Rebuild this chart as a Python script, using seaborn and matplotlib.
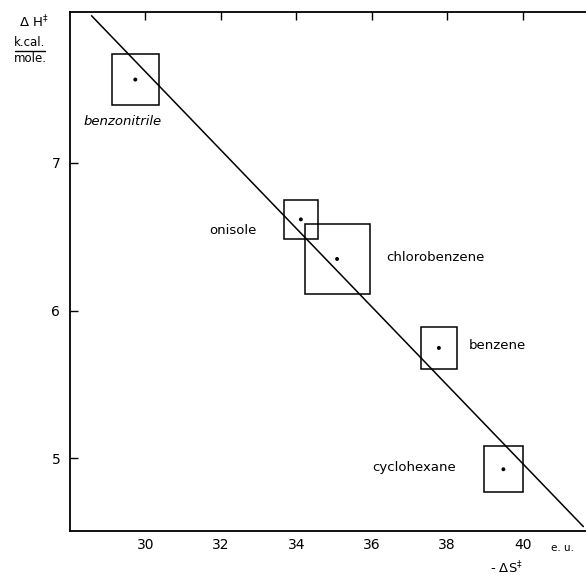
import numpy as np
import pandas as pd
import seaborn as sns
import matplotlib.pyplot as plt
from matplotlib.patches import Rectangle
from matplotlib.lines import Line2D

# activation parameters
solvents = ['benzonitrile', 'onisole', 'chlorobenzene', 'benzene', 'cyclohexane']
neg_dS = [29.73, 34.12, 35.08, 37.78, 39.49]      # -dS (e.u.)
dH = [7.563, 6.617, 6.349, 5.747, 4.926]          # dH (kcal/mole)
dS_err = [0.62, 0.45, 0.86, 0.48, 0.52]
dH_err = [0.175, 0.13, 0.24, 0.14, 0.157]

# drawn correlation line (end points)
line_x = [28.57, 41.61]
line_y = [7.995, 4.538]

x_ticks = [30, 32, 34, 36, 38, 40]
y_ticks = [5, 6, 7]
y_minor = [5.5, 6.5, 7.5]

df = pd.DataFrame({'solvent': solvents, 'neg_dS': neg_dS, 'dH': dH,
                   'dS_err': dS_err, 'dH_err': dH_err})

sns.set_style('white')
plt.rcParams['font.family'] = ['DejaVu Sans']
plt.rcParams['text.color'] = 'black'
plt.rcParams['xtick.color'] = 'black'
plt.rcParams['ytick.color'] = 'black'

fig = plt.figure(figsize=(5.86, 5.76), dpi=100)
ax = fig.add_axes([0.1195, 0.0786, 0.8805, 0.9005])

# error boxes
for _, r in df.iterrows():
    ax.add_patch(Rectangle((r.neg_dS - r.dS_err, r.dH - r.dH_err),
                           2 * r.dS_err, 2 * r.dH_err,
                           fill=False, edgecolor='black', linewidth=1.1))

sns.scatterplot(data=df, x='neg_dS', y='dH', color='black', s=8,
                edgecolor='none', ax=ax, legend=False)
sns.lineplot(x=line_x, y=line_y, color='black', linewidth=1.1, ax=ax)

# solvent labels
label_pos = {'benzonitrile': (29.40, 7.281), 'onisole': (32.33, 6.543),
             'chlorobenzene': (37.68, 6.36), 'benzene': (39.34, 5.761),
             'cyclohexane': (37.12, 4.939)}
for name, (lx, ly) in label_pos.items():
    ax.text(lx, ly, name, ha='center', va='center', fontsize=9.5,
            style='italic' if name == 'benzonitrile' else 'normal')

ax.set_xlim(28, 41.68)
ax.set_ylim(4.51, 8.02)
ax.set_xticks(x_ticks)
ax.set_yticks(y_ticks)
ax.set_yticks(y_minor, minor=True)
ax.set_xlabel('')
ax.set_ylabel('')
ax.tick_params(axis='both', which='both', direction='in', length=6,
               width=1.0, labelsize=10, color='black', labelcolor='black')
ax.tick_params(axis='x', top=True, pad=5)
ax.tick_params(axis='y', left=True, pad=7)
for side in ['left', 'top', 'bottom']:
    ax.spines[side].set_visible(True)
    ax.spines[side].set_color('black')
    ax.spines[side].set_linewidth(1.3)
ax.spines['right'].set_visible(False)

# axis titles
ax.text(41.07, 4.393, 'e. u.', ha='center', va='center', fontsize=7.5,
        clip_on=False)
ax.text(39.56, 4.26, r'- $\Delta$S$^{\ddagger}$', ha='center', va='center',
        fontsize=9.5, clip_on=False)
fig.text(33.5 / 586, 1 - 22 / 576, r'$\Delta$ H$^{\ddagger}$', ha='center',
         va='center', fontsize=9.5)
fig.text(30 / 586, 1 - 43 / 576, 'k.cal.', ha='center', va='center', fontsize=8.5)
fig.text(30 / 586, 1 - 58 / 576, 'mole.', ha='center', va='center', fontsize=8.5)
fig.add_artist(Line2D([15 / 586, 45 / 586], [1 - 50.5 / 576, 1 - 50.5 / 576],
                      color='black', linewidth=1.0))

fig.savefig('out.png', dpi=100)
